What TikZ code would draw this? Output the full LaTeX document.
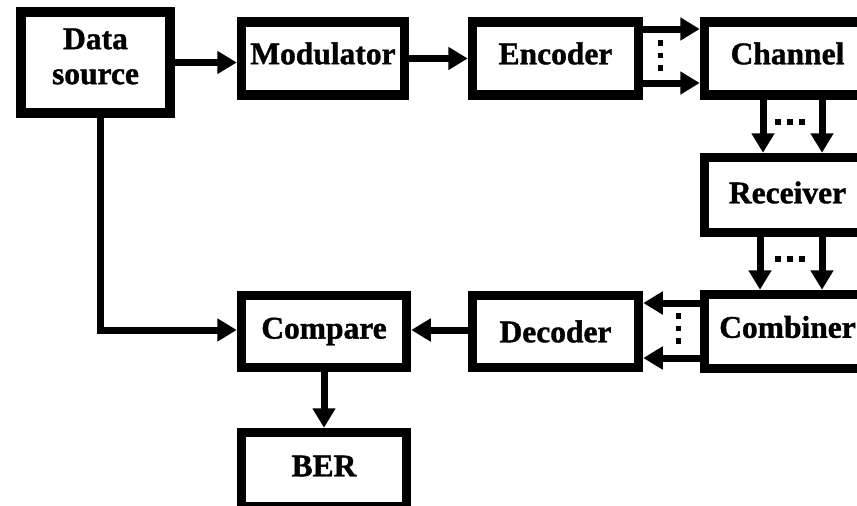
\documentclass[tikz,border=0pt]{standalone}
\usepackage{fontspec}
\setmainfont{Liberation Serif}[BoldFeatures={FakeBold=1.2}]
\usetikzlibrary{arrows.meta}
\newcommand\upby[2]{\raisebox{#1}[\height][\depth]{#2}}
\tikzset{
  blk/.style={draw=black, line width=9.5pt, fill=white, inner sep=0pt,
    font=\fontsize{31.5}{35}\selectfont\bfseries, align=center},
  arr/.style={line width=7pt, -{Triangle[length=19.5pt,width=22pt]}},
  dot/.style={fill=black}
}
\begin{document}
\begin{tikzpicture}[x=1pt,y=-1pt]
\useasboundingbox (0,0) rectangle (857,506);
\clip (0,0) rectangle (857,506);
\fill[white] (0,0) rectangle (857,506);
% boxes
\node[blk, minimum width=149pt, minimum height=101pt] (ds) at (95.5,62.5) {\upby{6pt}{Data}\\\upby{6pt}{source}};
\node[blk, minimum width=163pt, minimum height=73pt] (mod) at (323,58.5) {\upby{5pt}{Modulator}};
\node[blk, minimum width=166pt, minimum height=73pt] (enc) at (555.5,58.5) {\upby{5pt}{Encoder}};
\node[blk, minimum width=166pt, minimum height=73pt] (ch) at (787.5,58.5) {\upby{5pt}{Channel}};
\node[blk, minimum width=166pt, minimum height=75pt] (rx) at (787.5,195) {\upby{2.5pt}{Receiver}};
\node[blk, minimum width=166pt, minimum height=74pt] (cb) at (787.5,331.5) {\upby{4.5pt}{Combiner}};
\node[blk, minimum width=166pt, minimum height=72pt] (dec) at (555.5,331.5) {Decoder};
\node[blk, minimum width=165pt, minimum height=72pt] (cmp) at (324,331.5) {Compare};
\node[blk, minimum width=165pt, minimum height=74pt] (ber) at (324,469.5) {\upby{3.5pt}{BER}};
% helper coordinates
\coordinate (rA) at (0,29);
\coordinate (rB) at (0,83);
\coordinate (rC) at (0,303);
\coordinate (rD) at (0,358);
\coordinate (rE) at (0,330);
\coordinate (cA) at (763,0);
\coordinate (cB) at (822,0);
\coordinate (cC) at (760,0);
\coordinate (cD) at (100,0);
% arrows
\draw[arr] (ds.east) -- (ds.east -| mod.west);
\draw[arr] (mod.east) -- (mod.east -| enc.west);
\draw[arr] (enc.east |- rA) -- (ch.west |- rA);
\draw[arr] (enc.east |- rB) -- (ch.west |- rB);
\draw[arr] (ch.south -| cA) -- (rx.north -| cA);
\draw[arr] (ch.south -| cB) -- (rx.north -| cB);
\draw[arr] (rx.south -| cC) -- (cb.north -| cC);
\draw[arr] (rx.south -| cB) -- (cb.north -| cB);
\draw[arr] (cb.west |- rC) -- (dec.east |- rC);
\draw[arr] (cb.west |- rD) -- (dec.east |- rD);
\draw[arr] (dec.west |- rE) -- (cmp.east |- rE);
\draw[arr] (ds.south -| cD) -- (cD |- rE) -- (cmp.west |- rE);
\draw[arr] (cmp.south) -- (ber.north);
% dots
\foreach \y in {40,52.5,65} \fill[dot] (657.5,\y) rectangle ++(5.5,5.5);
\foreach \x in {775,787,799} \fill[dot] (\x,118.5) rectangle ++(6,6);
\foreach \x in {775,787,799} \fill[dot] (\x,255.5) rectangle ++(6,6);
\foreach \y in {313,325.5,338} \fill[dot] (675.5,\y) rectangle ++(5.5,5.5);
\end{tikzpicture}
\end{document}
